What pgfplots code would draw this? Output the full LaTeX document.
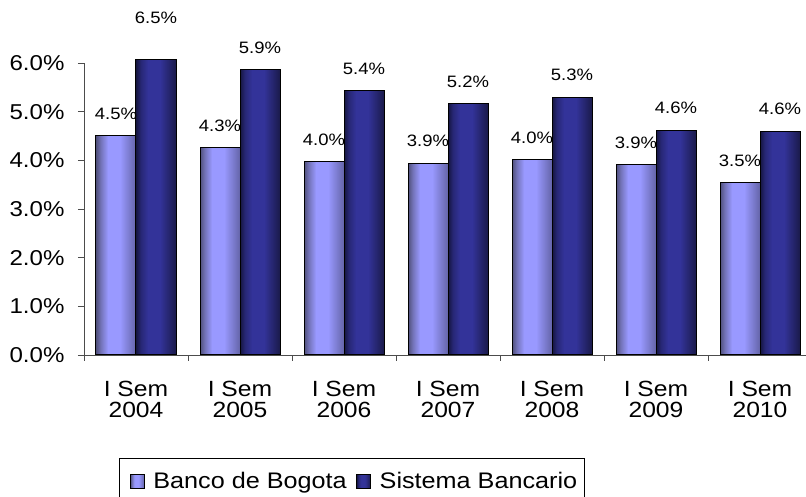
\documentclass[border=0pt]{standalone}
\usepackage{pgfplots}
\pgfplotsset{compat=1.18}
\usepackage{fontspec}
\setmainfont{Liberation Sans}[FakeStretch=1.12]

\definecolor{bA}{HTML}{4F4F7A}
\definecolor{bB}{HTML}{7373B8}
\definecolor{bC}{HTML}{9999FF}
\definecolor{bD}{HTML}{6464A8}
\definecolor{sA}{HTML}{15153F}
\definecolor{sB}{HTML}{272775}
\definecolor{sC}{HTML}{333399}
\definecolor{sD}{HTML}{1A1A4A}

\pgfdeclarehorizontalshading{bancoshade}{100bp}{color(0bp)=(bA); color(25bp)=(bA); color(31bp)=(bB); color(40bp)=(bC); color(55bp)=(bC); color(75bp)=(bD); color(100bp)=(bD)}
\pgfdeclarehorizontalshading{sistemashade}{100bp}{color(0bp)=(sA); color(25bp)=(sA); color(31bp)=(sB); color(40bp)=(sC); color(55bp)=(sC); color(75bp)=(sD); color(100bp)=(sD)}

\pgfplotsset{
  banco/.style={shade, shading=bancoshade, draw=black, line width=1pt, bar shift=-20pt},
  sistema/.style={shade, shading=sistemashade, draw=black, line width=1pt, bar shift=20pt},
}

\begin{document}
\begin{tikzpicture}
\begin{axis}[
  at={(84pt,142pt)}, anchor=south west,
  scale only axis,
  width=728pt, height=292pt,
  xmin=-0.5, xmax=6.5,
  ymin=0, ymax=6,
  clip=false,
  ybar=0pt, bar width=40pt,
  axis lines=left,
  axis line style={-, line width=0.8pt, draw=black!70},
  ytick={0,1,2,3,4,5,6},
  yticklabels={0.0\%,1.0\%,2.0\%,3.0\%,4.0\%,5.0\%,6.0\%},
  xtick={0,1,2,3,4,5,6},
  xticklabels={I Sem\\2004,I Sem\\2005,I Sem\\2006,I Sem\\2007,I Sem\\2008,I Sem\\2009,I Sem\\2010},
  minor xtick={-0.5,0.5,1.5,2.5,3.5,4.5,5.5,6.5},
  major x tick style={draw=none},
  minor x tick style={line width=0.8pt, draw=black!70},
  y tick style={line width=0.8pt, draw=black!70},
  tick align=outside,
  major tick length=6pt, minor tick length=6pt,
  x tick label style={align=center, font=\fontsize{22}{21}\selectfont, yshift=-17pt},
  y tick label style={font=\fontsize{21.5}{24}\selectfont, xshift=-10pt},
  nodes near coords,
  point meta=explicit symbolic,
  nodes near coords style={font=\fontsize{16.5}{20}\selectfont, anchor=south, inner sep=0pt, yshift=16pt},
  legend columns=2,
  legend style={at={(rel axis cs:0.048,-0.3527)}, anchor=north west, draw=black, line width=0.8pt,
    font=\fontsize{22.5}{26}\selectfont, inner xsep=5pt, inner ysep=12pt,
    /tikz/every even column/.append style={column sep=2pt}},
  legend cell align=left,
  legend image code/.code={\path[draw=none, fill=none, shade=false] (-6pt,0pt) rectangle (21pt,0.1pt); \draw[#1, draw=black, line width=0.8pt] (0pt,-7pt) rectangle (14pt,7pt);},
]
\addplot[banco] coordinates {(0,4.50)[4.5\%]};
\addlegendentry{Banco de Bogota}
\addplot[sistema, restrict y to domain*=0:6.08, nodes near coords style={yshift=19pt}] coordinates {(0,6.50)[6.5\%]};
\addlegendentry{Sistema Bancario}
\addplot[banco, forget plot] coordinates {(1,4.26)[4.3\%]};
\addplot[banco, forget plot] coordinates {(2,3.97)[4.0\%]};
\addplot[banco, forget plot] coordinates {(3,3.94)[3.9\%]};
\addplot[banco, forget plot] coordinates {(4,4.01)[4.0\%]};
\addplot[banco, forget plot] coordinates {(5,3.91)[3.9\%]};
\addplot[banco, forget plot] coordinates {(6,3.54)[3.5\%]};
\addplot[sistema, forget plot] coordinates {(1,5.86)[5.9\%]};
\addplot[sistema, forget plot] coordinates {(2,5.43)[5.4\%]};
\addplot[sistema, forget plot] coordinates {(3,5.16)[5.2\%]};
\addplot[sistema, forget plot] coordinates {(4,5.29)[5.3\%]};
\addplot[sistema, forget plot] coordinates {(5,4.61)[4.6\%]};
\addplot[sistema, forget plot] coordinates {(6,4.59)[4.6\%]};
\end{axis}
\pgfresetboundingbox
\path[use as bounding box] (0,0) rectangle (806pt,497pt);
\end{tikzpicture}
\end{document}
